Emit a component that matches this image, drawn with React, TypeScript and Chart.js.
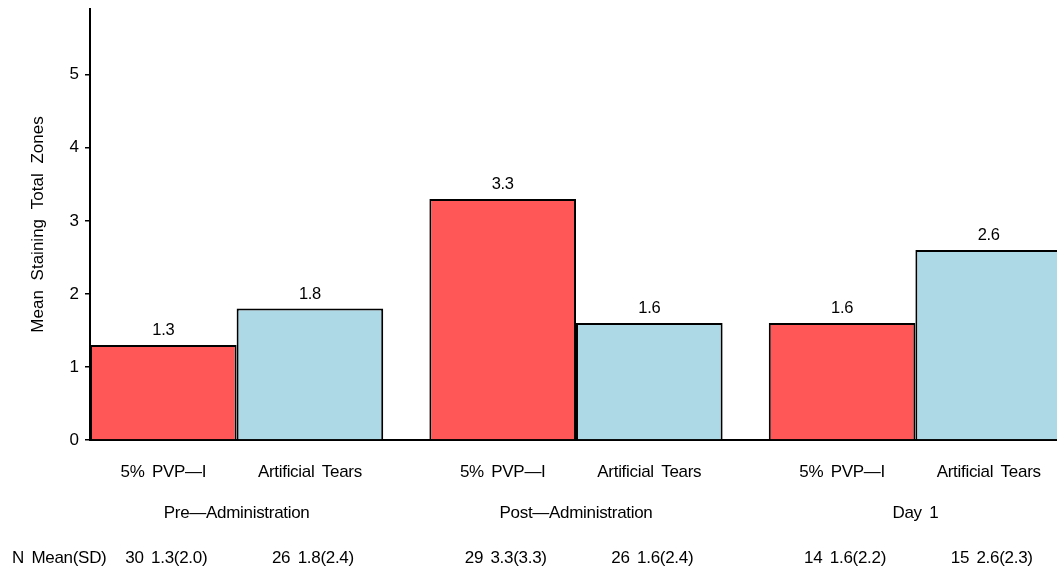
import React, { useEffect, useRef } from "react";
import { Chart, registerables } from "chart.js";

Chart.register(...registerables);

const groups = ["Pre—Administration", "Post—Administration", "Day 1"];
const treatments = ["5% PVP—I", "Artificial Tears"];
const pvpMeans = [1.3, 3.3, 1.6];
const tearsMeans = [1.8, 1.6, 2.6];
const pvpN = [30, 29, 14];
const tearsN = [26, 26, 15];
const pvpSD = [2.0, 3.3, 2.2];
const tearsSD = [2.4, 2.4, 2.3];
const yTicks = [0, 1, 2, 3, 4, 5];
const yMax = 5.9;
const yTitle = "Mean Staining Total Zones";

const seriesMeans = [pvpMeans, tearsMeans];
const seriesN = [pvpN, tearsN];
const seriesSD = [pvpSD, tearsSD];
const colors = ["#FF5757", "#ADD8E6"];
const FONT = "'Liberation Sans', Arial, Helvetica, sans-serif";
const CAT_PCT = 0.864;

export default function App() {
  const ref = useRef<HTMLCanvasElement>(null);
  useEffect(() => {
    if (!ref.current) return;
    const textPlugin = {
      id: "texts",
      afterDatasetsDraw(chart: any) {
        const ctx = chart.ctx;
        ctx.save();
        ctx.fillStyle = "#000";
        ctx.textAlign = "center";
        ctx.textBaseline = "alphabetic";
        try {
          (ctx as any).wordSpacing = "3px";
          (ctx as any).letterSpacing = "-0.3px";
        } catch (e) {}
        // value labels
        ctx.font = `16.5px ${FONT}`;
        seriesMeans.forEach((vals, d) => {
          const meta = chart.getDatasetMeta(d);
          meta.data.forEach((bar: any, i: number) => {
            ctx.fillText(vals[i].toFixed(1), bar.x, bar.y - 10);
          });
        });
        ctx.font = `17px ${FONT}`;
        seriesMeans.forEach((vals, d) => {
          const meta = chart.getDatasetMeta(d);
          meta.data.forEach((bar: any, i: number) => {
            ctx.fillText(treatments[d], bar.x, 477);
            ctx.fillText(
              `${seriesN[d][i]} ${vals[i].toFixed(1)}(${seriesSD[d][i].toFixed(1)})`,
              bar.x + 3,
              563
            );
          });
        });
        const xs = chart.scales.x;
        groups.forEach((g, i) => {
          ctx.fillText(g, xs.getPixelForValue(i + 1), 518);
        });
        ctx.textAlign = "left";
        ctx.fillText("N Mean(SD)", 12, 563);
        // y title
        const area = chart.chartArea;
        ctx.font = `17px ${FONT}`;
        try {
          (ctx as any).wordSpacing = "5px";
          (ctx as any).letterSpacing = "0px";
        } catch (e) {}
        ctx.textAlign = "center";
        ctx.translate(43, (area.top + area.bottom) / 2);
        ctx.rotate(-Math.PI / 2);
        ctx.fillText(yTitle, 0, 0);
        ctx.restore();
      },
    };
    const chart = new Chart(ref.current, {
      type: "bar",
      data: {
        datasets: seriesMeans.map((vals, d) => ({
          label: treatments[d],
          data: vals.map((v, i) => ({ x: i + 1, y: v })),
          backgroundColor: colors[d],
          borderColor: "#000",
          borderWidth: 2,
          borderSkipped: "start",
          categoryPercentage: CAT_PCT,
          barPercentage: 1,
        })),
      },
      options: {
        responsive: false,
        animation: false,
        devicePixelRatio: 1,
        layout: { padding: { top: 9, left: 0, right: 0, bottom: 0 } },
        plugins: { legend: { display: false }, tooltip: { enabled: false } },
        scales: {
          x: {
            type: "linear",
            position: "bottom",
            offset: false,
            min: 1 - CAT_PCT / 2,
            max: groups.length + CAT_PCT / 2,
            afterBuildTicks: (s: any) => {
              s.ticks = groups.map((_, i) => ({ value: i + 1 }));
            },
            afterFit: (s: any) => {
              s.height = 136;
              s.paddingLeft = 0;
              s.paddingRight = 0;
            },
            ticks: { display: false },
            grid: { display: false },
            border: { display: true, color: "#000", width: 2 },
          },
          y: {
            min: 0,
            max: yMax,
            afterBuildTicks: (s: any) => {
              s.ticks = yTicks.map((v) => ({ value: v }));
            },
            afterFit: (s: any) => {
              s.width = 90;
              s.paddingTop = 0;
              s.paddingBottom = 0;
            },
            ticks: {
              color: "#000",
              font: { family: FONT, size: 17 },
              padding: 6,
            },
            grid: {
              display: true,
              drawOnChartArea: false,
              drawTicks: true,
              tickLength: 5,
              color: "#000",
              lineWidth: 1.5,
            },
            border: { display: true, color: "#000", width: 2 },
            title: { display: false },
          },
        },
      },
      plugins: [textPlugin],
    });
    return () => chart.destroy();
  }, []);
  return (
    <div
      style={{
        position: "absolute",
        left: 0,
        top: 0,
        width: 1057,
        height: 576,
        overflow: "hidden",
        background: "#fff",
      }}
    >
      <canvas ref={ref} width={1062} height={576} style={{ width: 1062, height: 576, display: "block" }} />
    </div>
  );
}
